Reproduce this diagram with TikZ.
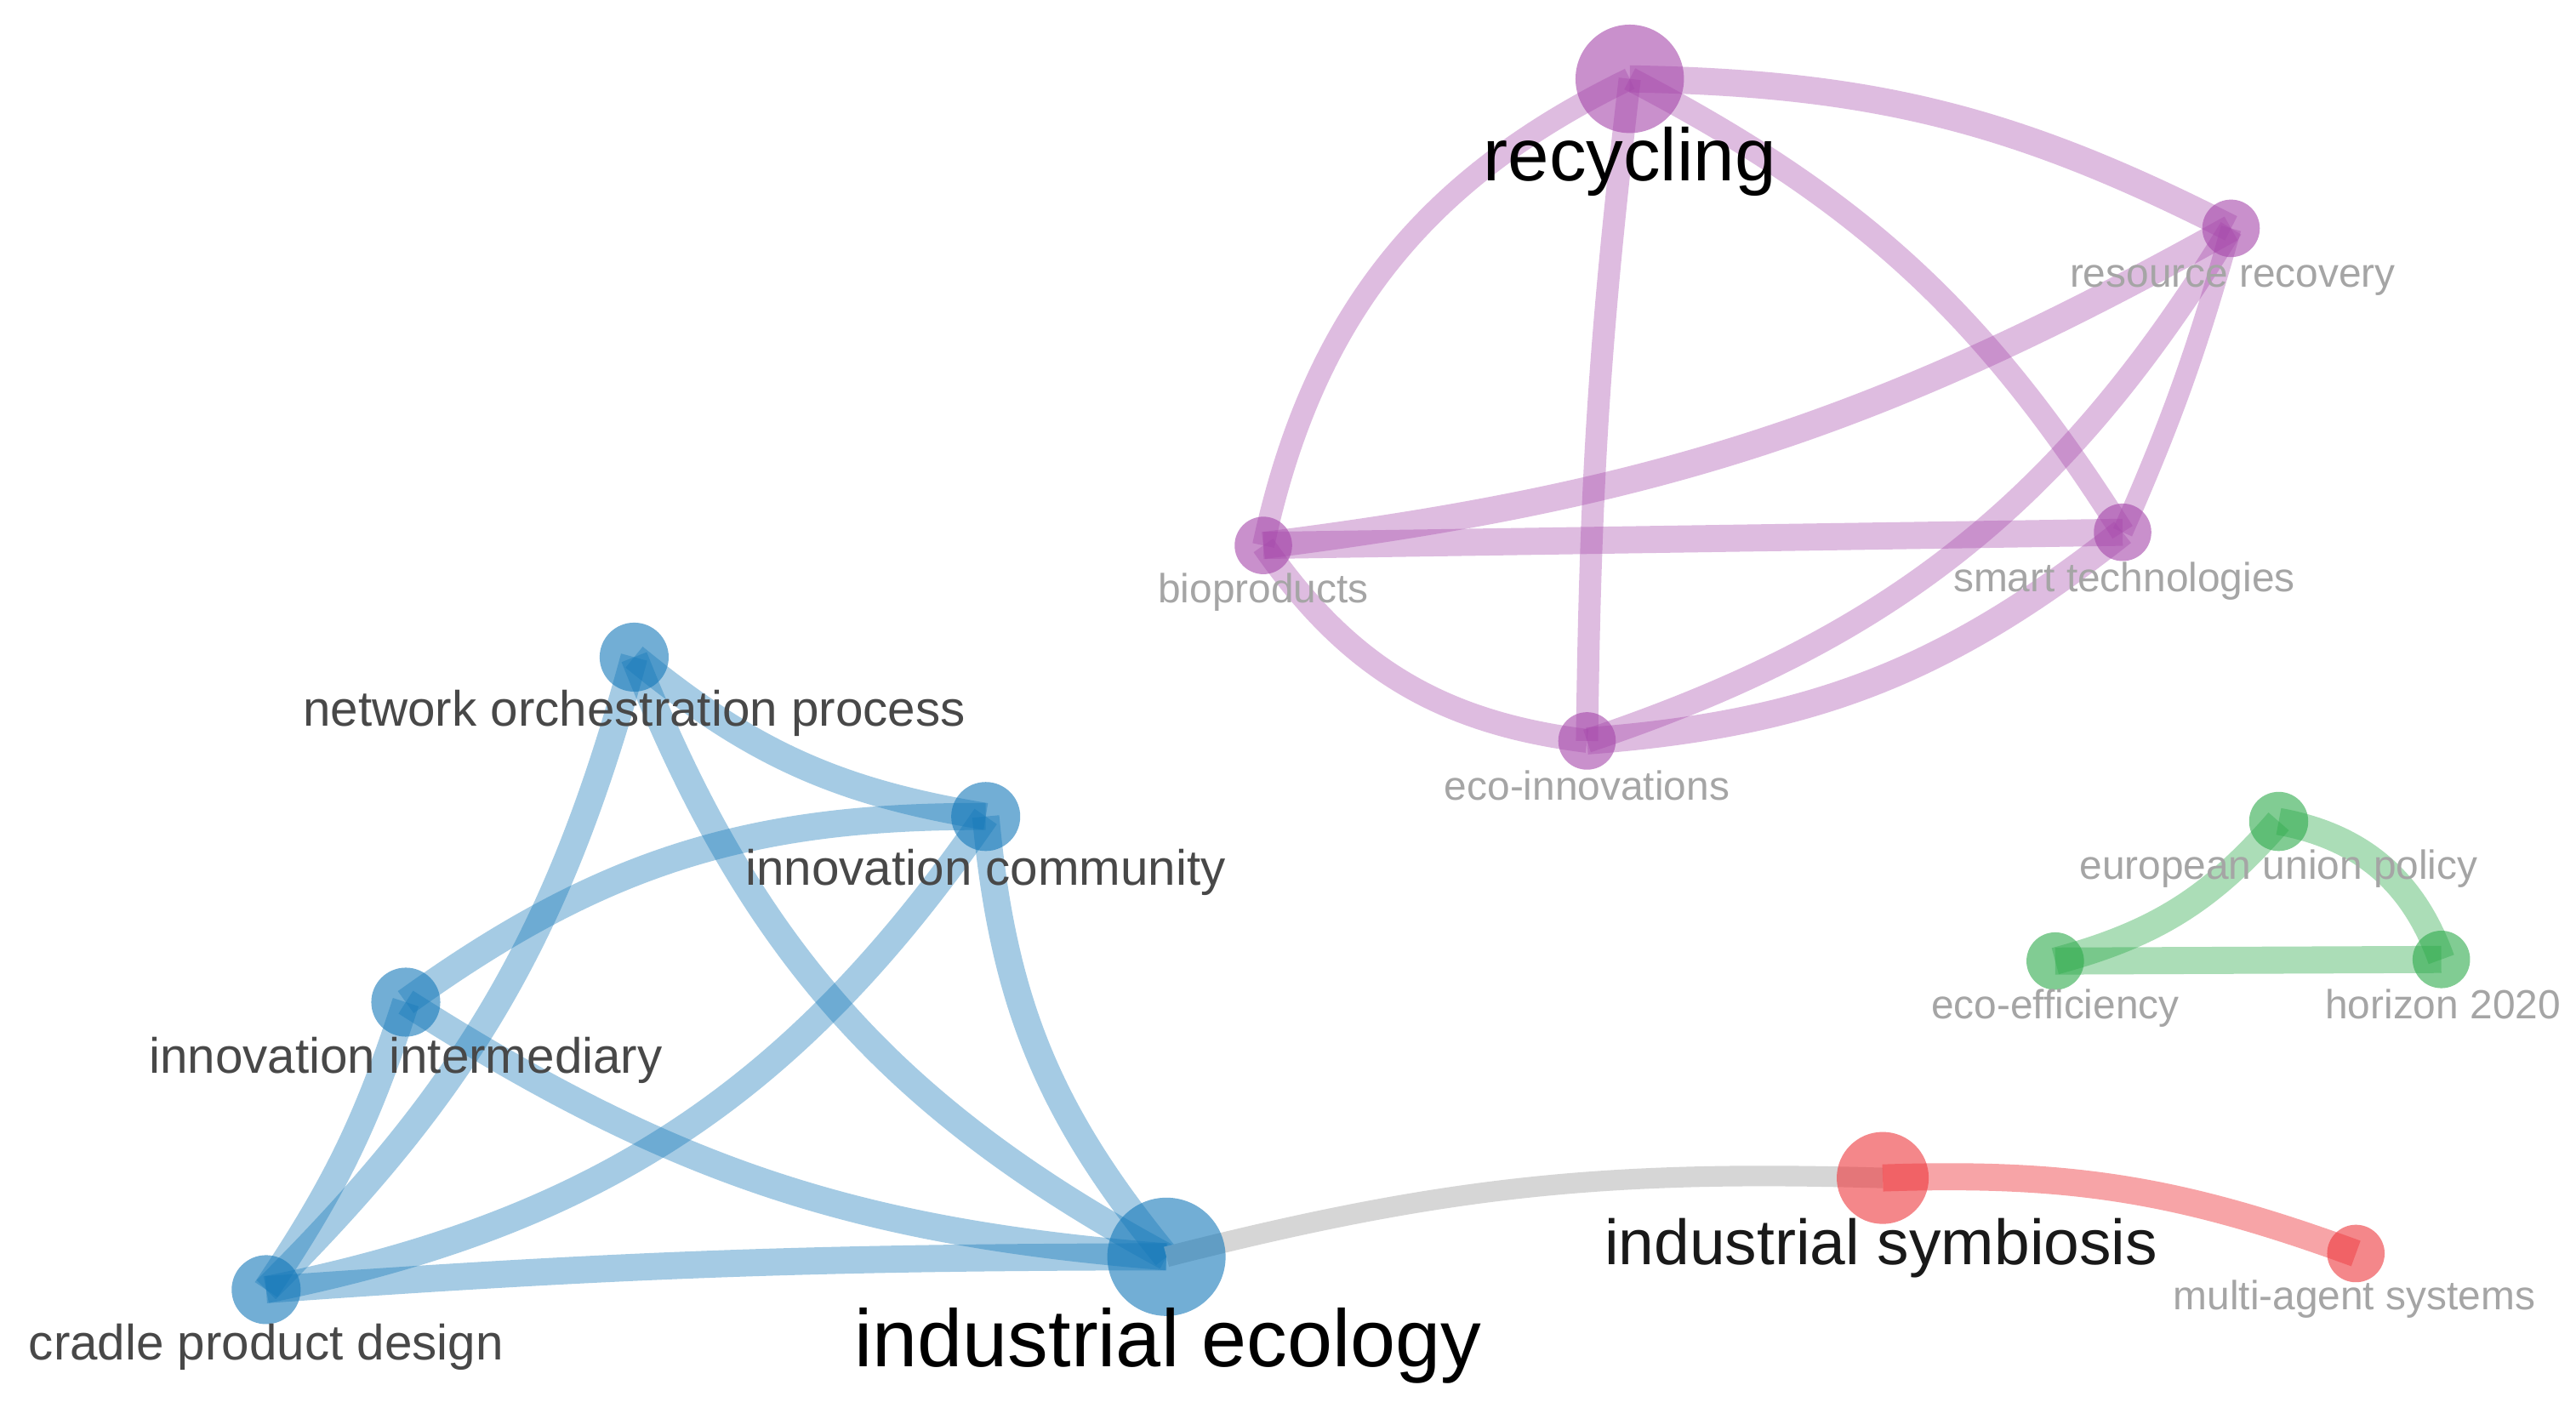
\documentclass[tikz,border=0pt]{standalone}
\usepackage{fontspec}
\setmainfont{Liberation Sans}
\pgfdeclarelayer{bg}
\pgfdeclarelayer{edges}
\pgfsetlayers{bg,edges,main}
\definecolor{pur}{RGB}{165,70,170}
\definecolor{blu}{RGB}{20,120,185}
\definecolor{grn}{RGB}{45,170,75}
\definecolor{rd}{RGB}{238,55,60}
\definecolor{gry}{RGB}{214,214,214}
\definecolor{lblgray}{RGB}{165,165,165}
\definecolor{lbldark}{RGB}{72,72,72}
\tikzset{
  edge/.style={line cap=butt, line width=0.33cm},
  pe/.style={edge, draw=pur, draw opacity=0.36},
  be/.style={edge, draw=blu, draw opacity=0.38},
  ge/.style={edge, draw=grn, draw opacity=0.40},
  re/.style={edge, draw=rd, draw opacity=0.45},
  ye/.style={edge, draw=gry, line width=0.25cm},
  dot/.style={circle, inner sep=0pt, minimum size=#1},
  pn/.style={dot=#1, fill=pur, fill opacity=0.6},
  bn/.style={dot=#1, fill=blu, fill opacity=0.6},
  gn/.style={dot=#1, fill=grn, fill opacity=0.6},
  rn/.style={dot=#1, fill=rd, fill opacity=0.6},
  lbl/.style={inner sep=0pt, anchor=base},
  lblS/.style={lbl, text=lblgray, font=\fontsize{14.1pt}{16pt}\selectfont},
  lblM/.style={lbl, text=lbldark, font=\fontsize{17.2pt}{20pt}\selectfont},
}
\begin{document}
\begin{tikzpicture}[x=0.02cm, y=0.02cm]
\begin{pgfonlayer}{bg}
\fill[white] (0,0) rectangle (1568,853);
\end{pgfonlayer}
\useasboundingbox (0,0) rectangle (1568,853);

% nodes: purple cluster
\node[pn=1.32cm] (rec) at (992,805) {};
\node[pn=0.70cm] (rr)  at (1358,714) {};
\node[pn=0.70cm] (bio) at (769,521) {};
\node[pn=0.70cm] (st)  at (1292,529) {};
\node[pn=0.70cm] (ei)  at (966,402) {};
% blue cluster
\node[bn=0.84cm] (nop) at (386,453) {};
\node[bn=0.84cm] (ic)  at (600,356) {};
\node[bn=0.84cm] (ii)  at (247,243) {};
\node[bn=0.84cm] (cpd) at (162,68) {};
\node[bn=1.44cm] (ie)  at (710,88) {};
% red
\node[rn=1.12cm] (is)  at (1146,136) {};
\node[rn=0.70cm] (mas) at (1434,90) {};
% green
\node[gn=0.72cm] (eu)  at (1387,353) {};
\node[gn=0.70cm] (ee)  at (1251,268) {};
\node[gn=0.70cm] (hz)  at (1486,269) {};

\begin{pgfonlayer}{edges}
% purple edges
\draw[pe] (rec.center) to[bend left=13] (rr.center);
\draw[pe, line width=0.27cm] (bio.center) to[bend left=26] (rec.center);
\draw[pe, line width=0.27cm] (rec.center) to[bend right=3] (ei.center);
\draw[pe, line width=0.29cm] (rec.center) to[bend left=15] (st.center);
\draw[pe] (bio.center) to[bend right=11] (rr.center);
\draw[pe, line width=0.25cm] (st.center) to[bend right=4] (rr.center);
\draw[pe, line width=0.29cm] (ei.center) to[bend right=20] (rr.center);
\draw[pe] (bio.center) -- (st.center);
\draw[pe, line width=0.29cm] (bio.center) to[bend right=24] (ei.center);
\draw[pe] (ei.center) to[bend right=17] (st.center);
% blue edges
\draw[be] (nop.center) to[bend right=15] (ic.center);
\draw[be] (nop.center) to[bend left=15] (cpd.center);
\draw[be] (nop.center) to[bend right=20] (ie.center);
\draw[be] (ii.center) to[bend left=18] (ic.center);
\draw[be] (ii.center) to[bend left=8] (cpd.center);
\draw[be] (ii.center) to[bend right=14] (ie.center);
\draw[be] (ic.center) to[bend left=22] (cpd.center);
\draw[be] (ic.center) to[bend right=17] (ie.center);
\draw[be] (cpd.center) to[bend left=2] (ie.center);
% gray and red edges
\draw[ye] (ie.center) to[bend left=8] (is.center);
\draw[re] (is.center) to[bend left=11] (mas.center);
% green edges
\draw[ge] (ee.center) to[bend right=17] (eu.center);
\draw[ge] (eu.center) to[bend left=30] (hz.center);
\draw[ge] (ee.center) -- (hz.center);
\end{pgfonlayer}

% labels
\node[lbl, text=black, font=\fontsize{25.7pt}{30pt}\selectfont] (rec-l) at (992,743) {recycling};
\node[lblS] (rr-l)  at (1359,678) {resource recovery};
\node[lblS] (bio-l) at (769,486) {bioproducts};
\node[lblS] (st-l)  at (1293,493) {smart technologies};
\node[lblS] (ei-l)  at (966,366) {eco-innovations};
\node[lblM] (nop-l) at (386,411) {network orchestration process};
\node[lblM] (ic-l)  at (600,314) {innovation community};
\node[lblM] (ii-l)  at (247,200) {innovation intermediary};
\node[lblM] (cpd-l) at (162,25) {cradle product design};
\node[lbl, text=black, font=\fontsize{28.1pt}{33pt}\selectfont] (ie-l) at (711,21) {industrial ecology};
\node[lbl, text=black!90, font=\fontsize{22.1pt}{26pt}\selectfont] (is-l) at (1145,83) {industrial symbiosis};
\node[lblS] (mas-l) at (1433,56) {multi-agent systems};
\node[lblS] (eu-l)  at (1387,318) {european union policy};
\node[lblS] (ee-l)  at (1251,233) {eco-efficiency};
\node[lblS] (hz-l)  at (1487,233) {horizon 2020};
\end{tikzpicture}
\end{document}
